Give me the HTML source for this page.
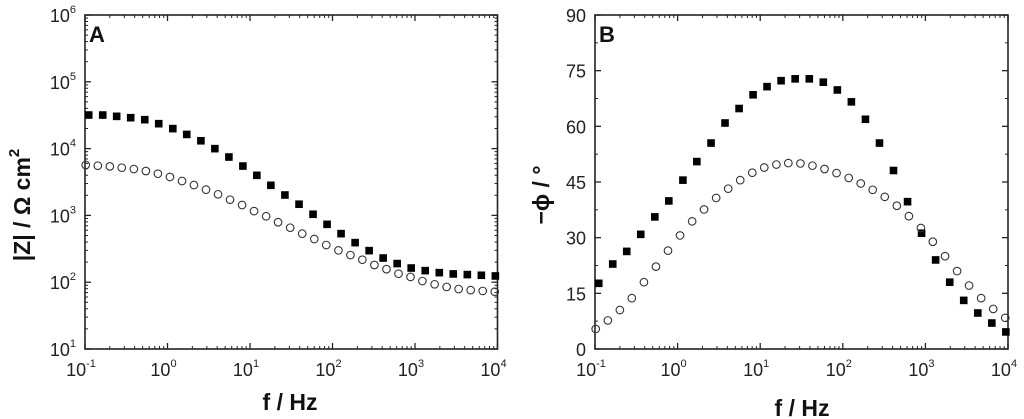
<!DOCTYPE html>
<html><head><meta charset="utf-8"><style>
body{margin:0;background:#fff;}
svg{display:block;font-family:"Liberation Sans",Arial,sans-serif;}
</style></head><body>
<svg id="chart" width="1024" height="419" viewBox="0 0 1024 419"></svg>
<script>
// Frequencies (Hz)
const freqFilled=[0.111,0.164,0.242,0.358,0.530,0.783,1.16,1.71,2.54,3.75,5.55,8.20,12.1,17.9,26.5,39.3,58.1,85.9,127,188,278,411,608,899,1330,1970,2910,4310,6370,9420];
const freqOpen=[0.102,0.143,0.200,0.279,0.391,0.547,0.765,1.07,1.50,2.09,2.93,4.10,5.73,8.02,11.2,15.7,21.9,30.7,42.9,60.1,84.0,118,165,230,322,451,631,882,1230,1730,2420,3380,4730,6620,9260];
// |Z| (Ohm cm2)
const zFilled=[31800,31800,30400,29000,27100,23600,19900,16300,13100,9980,7480,5480,3980,2820,2020,1470,1040,735,533,391,297,230,190,163,149,139,133,130,127,124];
const zOpen=[5680,5550,5420,5180,4940,4620,4210,3760,3270,2850,2430,2070,1720,1430,1160,970,790,655,533,443,360,300,255,217,181,157,134,120,104,93,85,79,76,74,72];
// -phase (deg)
const phFilled=[17.7,22.9,26.3,30.9,35.6,39.9,45.5,50.5,55.5,60.9,64.8,68.5,70.7,72.3,72.8,72.8,71.9,69.8,66.6,61.9,55.5,48.1,39.7,31.2,24.0,18.0,13.1,9.7,7.0,4.6];
const phOpen=[5.4,7.7,10.5,13.7,18.0,22.2,26.5,30.6,34.4,37.6,40.7,43.2,45.5,47.5,48.9,49.7,50.1,50.0,49.4,48.5,47.4,46.1,44.6,42.9,41.0,38.6,35.8,32.6,28.9,25.0,21.0,17.1,13.7,10.8,8.4];
const xExps=[-1,0,1,2,3,4];
const zExps=[1,2,3,4,5,6];
const phTicks=[0,15,30,45,60,75,90];

const NS="http://www.w3.org/2000/svg";
const svg=document.getElementById('chart');
function mk(tag,attrs,parent){const e=document.createElementNS(NS,tag);for(const k in attrs)e.setAttribute(k,attrs[k]);(parent||svg).appendChild(e);return e;}

function panel(cfg){
  const g=mk('g',{});
  
  
  const L=cfg.L,R=cfg.R,T=15,B=349;
  const xs=f=>L+(Math.log10(f)+1)/5*(R-L);
  const ys=cfg.ys(T,B);
  const col='#222';
  const fr=mk('rect',{x:L,y:T,width:R-L,height:B-T,fill:'none',stroke:col,'stroke-width':1.6},g);
  
  
  for(let e=-1;e<=4;e++){
    const x=xs(Math.pow(10,e));
    mk('line',{x1:x,y1:B,x2:x,y2:B-6,stroke:col,'stroke-width':1.3},g);
    mk('line',{x1:x,y1:T,x2:x,y2:T+6,stroke:col,'stroke-width':1.3},g);
    if(e<4)for(let m=2;m<=9;m++){const xm=xs(m*Math.pow(10,e));
      mk('line',{x1:xm,y1:B,x2:xm,y2:B-3,stroke:col,'stroke-width':1},g);
      mk('line',{x1:xm,y1:T,x2:xm,y2:T+3,stroke:col,'stroke-width':1},g);}
  }
  xExps.forEach(e=>{
    const t=mk('text',{x:xs(Math.pow(10,e))-4,y:376,'text-anchor':'middle','font-size':18,fill:col},g);
    
    
    t.innerHTML='10<tspan font-size="11" dy="-9">'+e+'</tspan>';
  });
  cfg.yTicks(g,ys,L,R,T,B,col);
  cfg.filled[0].forEach((f,i)=>{
    const r=mk('rect',{x:xs(f)-3.8,y:ys(cfg.filled[1][i])-3.8,width:7.6,height:7.6,fill:'#000'},g);
    
    
  });
  cfg.open[0].forEach((f,i)=>{
    const c=mk('circle',{cx:xs(f),cy:ys(cfg.open[1][i]),r:3.8,fill:'none',stroke:'#333','stroke-width':1.1},g);
    
    
  });
  const lab=mk('text',{x:L+4,y:T+27,'font-size':22,'font-weight':'bold',fill:'#111'},g);
  
  
  lab.textContent=cfg.label;
  const xt=mk('text',{x:cfg.xtX,y:cfg.xtY,'text-anchor':'middle','font-size':23,'font-weight':'bold',fill:'#111'},g);
  
  
  xt.textContent='f / Hz';
  const yt=mk('text',{x:0,y:0,'text-anchor':'middle','font-size':23,'font-weight':'bold',fill:'#111',transform:'translate('+cfg.ytX+','+cfg.ytY+') rotate(-90)'},g);
  
  
  yt.innerHTML=cfg.ytitle;
}

panel({name:'panel-a-magnitude',L:85,R:497.5,label:'A',xtX:290,xtY:410,ytX:30,ytY:205,
  ytitle:'|Z| / Ω cm<tspan font-size="15" dy="-11">2</tspan>',
  ys:(T,B)=>v=>B-(Math.log10(v)-1)/5*(B-T),
  filled:[freqFilled,zFilled],open:[freqOpen,zOpen],
  yTicks:(g,ys,L,R,T,B,col)=>{
    for(let e=1;e<=6;e++){const y=ys(Math.pow(10,e));
      mk('line',{x1:L,y1:y,x2:L+6,y2:y,stroke:col,'stroke-width':1.3},g);
      mk('line',{x1:R,y1:y,x2:R-6,y2:y,stroke:col,'stroke-width':1.3},g);
      if(e<6)for(let m=2;m<=9;m++){const ym=ys(m*Math.pow(10,e));
        mk('line',{x1:L,y1:ym,x2:L+3,y2:ym,stroke:col,'stroke-width':1},g);
        mk('line',{x1:R,y1:ym,x2:R-3,y2:ym,stroke:col,'stroke-width':1},g);}}
    zExps.forEach(e=>{const t=mk('text',{x:76,y:ys(Math.pow(10,e))+7,'text-anchor':'end','font-size':18,fill:col},g);
      
      
      t.innerHTML='10<tspan font-size="11" dy="-9">'+e+'</tspan>';});
  }});

panel({name:'panel-b-phase',L:595,R:1008,label:'B',xtX:802,xtY:416,ytX:549,ytY:195,
  ytitle:'−ϕ / °',
  ys:(T,B)=>v=>B-v/90*(B-T),
  filled:[freqFilled,phFilled],open:[freqOpen,phOpen],
  yTicks:(g,ys,L,R,T,B,col)=>{
    for(let v=0;v<=90;v+=7.5){const y=ys(v);const maj=v%15===0;const len=maj?6:3;
      mk('line',{x1:L,y1:y,x2:L+len,y2:y,stroke:col,'stroke-width':maj?1.3:1},g);
      mk('line',{x1:R,y1:y,x2:R-len,y2:y,stroke:col,'stroke-width':maj?1.3:1},g);}
    phTicks.forEach(v=>{const t=mk('text',{x:586,y:ys(v)+7,'text-anchor':'end','font-size':18,fill:col},g);
      
      
      t.textContent=v;});
  }});
</script>
</body></html>
